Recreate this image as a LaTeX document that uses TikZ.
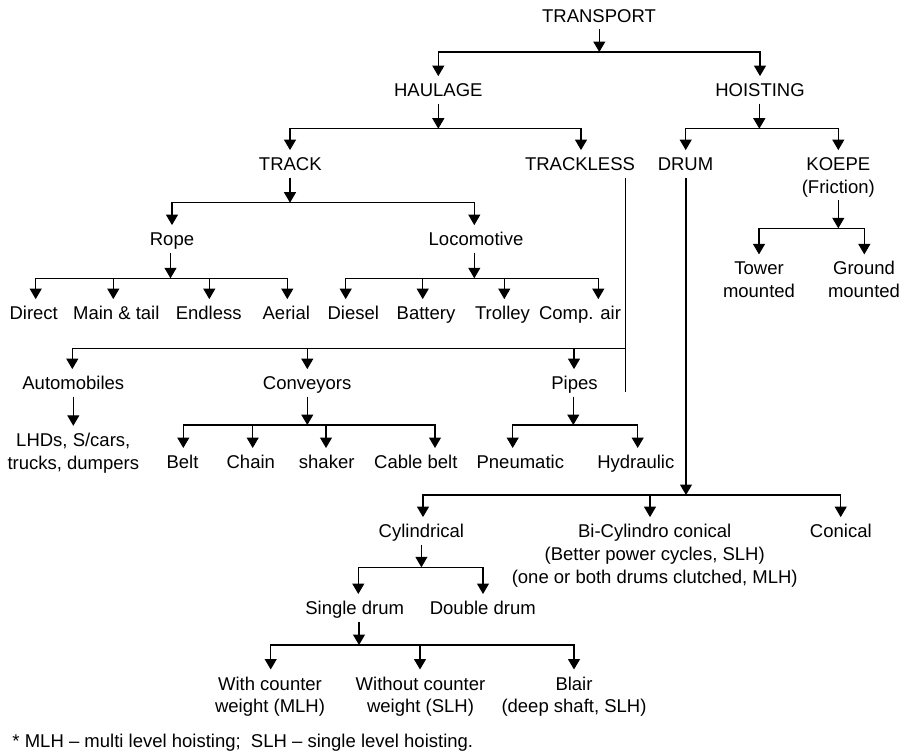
\documentclass[tikz,border=0pt]{standalone}
\usepackage{fontspec}
\setmainfont{Liberation Sans}
\usetikzlibrary{arrows.meta}
\newcommand\mytop{\rule{0pt}{17.5pt}}
\newcommand\mybot{\rule[-4pt]{0pt}{4pt}}
\tikzset{
  lbl/.style={inner sep=0pt, outer sep=3pt, font=\fontsize{18.5}{22.7}\selectfont, anchor=base},
  one/.style={lbl, text height=17.5pt, text depth=4pt},
  multi/.style={lbl, align=center},
  ln/.style={line width=1.15pt},
  arr/.style={ln, -{Triangle[length=10.5pt,width=12pt]}},
  arr2/.style={ln, {Triangle[length=10.5pt,width=12pt]}-{Triangle[length=10.5pt,width=12pt]}}
}
\begin{document}
\begin{tikzpicture}[x=1pt,y=-1pt]
\useasboundingbox (0,0) rectangle (909,753);
% ---------- nodes ----------
\node[one] (transport) at (599,22.1) {TRANSPORT};
\node[one] (haulage) at (438.3,96.6) {HAULAGE};
\node[one] (hoisting) at (760,96.6) {HOISTING};
\node[one] (track) at (290.3,170.6) {TRACK};
\node[one] (trackless) at (580,170.6) {TRACKLESS};
\node[one] (drum) at (685.5,170.6) {DRUM};
\node[multi, anchor=north] (koepe) at (838.3,150.1) {\mytop KOEPE\\(Friction)\mybot};
\node[one] (rope) at (172,245.6) {Rope};
\node[one] (loco) at (476,245.6) {Locomotive};
\node[multi, anchor=north] (tower) at (759,254.4) {\mytop Tower\\mounted\mybot};
\node[multi, anchor=north] (ground) at (864,254.4) {\mytop Ground\\mounted\mybot};
\node[one] (direct) at (33.7,319.6) {Direct};
\node[one] (maintail) at (116.3,319.6) {Main \& tail};
\node[one] (endless) at (208.7,319.6) {Endless};
\node[one] (aerial) at (286.3,319.6) {Aerial};
\node[one] (diesel) at (353.3,319.6) {Diesel};
\node[one] (battery) at (426,319.6) {Battery};
\node[one] (trolley) at (502.5,319.6) {Trolley};
\node[one] (compair) at (580,319.6) {Comp. air};
\node[one] (auto) at (73.3,389.6) {Automobiles};
\node[one] (conv) at (307.2,389.6) {Conveyors};
\node[one] (pipes) at (574.5,389.6) {Pipes};
\node[multi, anchor=north] (lhd) at (73.3,425.8) {\mytop LHDs, S/cars,\\trucks, dumpers\mybot};
\node[one] (belt) at (182.5,468.5) {Belt};
\node[one] (chain) at (250.8,468.5) {Chain};
\node[one] (shaker) at (326.7,468.5) {shaker};
\node[one] (cable) at (415.8,468.5) {Cable belt};
\node[one] (pneu) at (520.3,468.5) {Pneumatic};
\node[one] (hydr) at (635.8,468.5) {Hydraulic};
\node[one] (cylind) at (421.4,537.6) {Cylindrical};
\node[multi, anchor=north] (bicyl) at (654.7,517.1) {\mytop Bi-Cylindro conical\\(Better power cycles, SLH)\\(one or both drums clutched, MLH)\mybot};
\node[one] (conical) at (840.8,537.6) {Conical};
\node[one] (single) at (354.7,614.5) {Single drum};
\node[one] (double) at (482.8,614.5) {Double drum};
\node[multi, anchor=north] (withcw) at (270,669.5) {\mytop With counter\\weight (MLH)\mybot};
\node[multi, anchor=north] (withoutcw) at (420.5,669.5) {\mytop Without counter\\weight (SLH)\mybot};
\node[multi, anchor=north] (blair) at (574,669.5) {\mytop Blair\\(deep shaft, SLH)\mybot};
\node[lbl, anchor=base west] (note) at (9.5,747.5) {* MLH -- multi level hoisting;\ \ SLH -- single level hoisting.};
% ---------- connectors ----------
% TRANSPORT
\coordinate (a0) at (599.3,52); \coordinate (a1) at (438.3,52); \coordinate (a2) at (760,52);
\draw[arr] (transport.south -| a0) -- (a0);
\draw[arr2] (a1 |- haulage.north) -- (a1) -- (a2) -- (a2 |- hoisting.north);
% HAULAGE
\coordinate (h0) at (438.3,128.7); \coordinate (h1) at (290,128.7); \coordinate (h2) at (581,128.7);
\draw[arr] (haulage.south -| h0) -- (h0);
\draw[arr2] (h1 |- track.north) -- (h1) -- (h2) -- (h2 |- trackless.north);
% HOISTING
\coordinate (s0) at (759.3,128.7); \coordinate (s1) at (685.7,128.7); \coordinate (s2) at (838.3,128.7);
\draw[arr] (hoisting.south -| s0) -- (s0);
\draw[arr2] (s1 |- drum.north) -- (s1) -- (s2) -- (s2 |- koepe.north);
% TRACK
\coordinate (k0) at (290,202.7); \coordinate (k1) at (172,202.7); \coordinate (k2) at (474.3,202.7);
\draw[arr] (track.south -| k0) -- (k0);
\draw[arr2] (k1 |- rope.north) -- (k1) -- (k2) -- (k2 |- loco.north);
% KOEPE
\coordinate (f0) at (838.3,228.3); \coordinate (f1) at (759,228.3); \coordinate (f2) at (864.3,228.3);
\draw[arr] (koepe.south -| f0) -- (f0);
\draw[arr2] (f1 |- tower.north) -- (f1) -- (f2) -- (f2 |- ground.north);
% Rope
\coordinate (r0) at (170.5,278.3); \coordinate (r1) at (35.7,278.3); \coordinate (r2) at (113.3,278.3);
\coordinate (r3) at (209.3,278.3); \coordinate (r4) at (287.3,278.3);
\draw[arr] (rope.south -| r0) -- (r0);
\draw[arr2] (r1 |- direct.north) -- (r1) -- (r4) -- (r4 |- aerial.north);
\draw[arr] (r2) -- (r2 |- maintail.north);
\draw[arr] (r3) -- (r3 |- endless.north);
% Locomotive
\coordinate (l0) at (474.3,278.3); \coordinate (l1) at (345.7,278.3); \coordinate (l2) at (422.7,278.3);
\coordinate (l3) at (504.3,278.3); \coordinate (l4) at (598.3,278.3);
\draw[arr] (loco.south -| l0) -- (l0);
\draw[arr2] (l1 |- diesel.north) -- (l1) -- (l4) -- (l4 |- compair.north);
\draw[arr] (l2) -- (l2 |- battery.north);
\draw[arr] (l3) -- (l3 |- trolley.north);
% TRACKLESS
\coordinate (x0) at (625.7,348.3); \coordinate (x1) at (72.3,348.3); \coordinate (x2) at (307.3,348.3);
\coordinate (x3) at (574,348.3); \coordinate (xe) at (625.7,391.7);
\draw[ln] (trackless.south -| x0) -- (xe);
\draw[arr] (x0) -- (x1) -- (x1 |- auto.north);
\draw[arr] (x2) -- (x2 |- conv.north);
\draw[arr] (x3) -- (x3 |- pipes.north);
% Automobiles
\draw[arr] (auto.south) -- (auto.south |- lhd.north);
% Conveyors
\coordinate (c0) at (307.3,425); \coordinate (c1) at (183.3,425); \coordinate (c2) at (252.7,425);
\coordinate (c3) at (326,425); \coordinate (c4) at (435,425);
\draw[arr] (conv.south -| c0) -- (c0);
\draw[arr2] (c1 |- belt.north) -- (c1) -- (c4) -- (c4 |- cable.north);
\draw[arr] (c2) -- (c2 |- chain.north);
\draw[arr] (c3) -- (c3 |- shaker.north);
% Pipes
\coordinate (p0) at (573.3,425); \coordinate (p1) at (512.7,425); \coordinate (p2) at (637.7,425);
\draw[arr] (pipes.south -| p0) -- (p0);
\draw[arr2] (p1 |- pneu.north) -- (p1) -- (p2) -- (p2 |- hydr.north);
% DRUM
\coordinate (d0) at (686,495); \coordinate (d1) at (423,495); \coordinate (d2) at (650,495); \coordinate (d3) at (840.7,495);
\draw[arr] (drum.south -| d0) -- (d0);
\draw[arr2] (d1 |- cylind.north) -- (d1) -- (d3) -- (d3 |- conical.north);
\draw[arr] (d2) -- (d2 |- bicyl.north);
% Cylindrical
\coordinate (y0) at (421.4,567.3); \coordinate (y1) at (358.3,567.3); \coordinate (y2) at (483,567.3);
\draw[arr] (cylind.south -| y0) -- (y0);
\draw[arr2] (y1 |- single.north) -- (y1) -- (y2) -- (y2 |- double.north);
% Single drum
\coordinate (g0) at (359,645); \coordinate (g1) at (270.7,645); \coordinate (g2) at (420,645); \coordinate (g3) at (574,645);
\draw[arr] (single.south -| g0) -- (g0);
\draw[arr2] (g1 |- withcw.north) -- (g1) -- (g3) -- (g3 |- blair.north);
\draw[arr] (g2) -- (g2 |- withoutcw.north);
\end{tikzpicture}
\end{document}
